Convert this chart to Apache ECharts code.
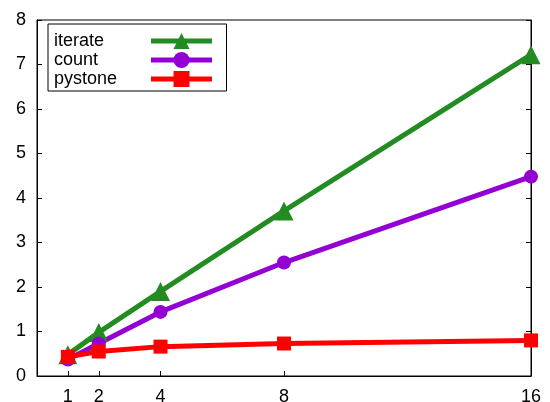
<!DOCTYPE html>
<html><head><meta charset="utf-8">
<script src="https://cdn.jsdelivr.net/npm/echarts@6/dist/echarts.min.js"></script>
<style>html,body{margin:0;padding:0;background:#fff}#c{width:550px;height:402px}</style>
</head><body><div id="c"></div>
<script>
var threads = [1, 2, 4, 8, 16];
var iterate = [0.48, 0.98, 1.9, 3.71, 7.22];
var count = [0.37, 0.73, 1.44, 2.55, 4.48];
var pystone = [0.43, 0.55, 0.66, 0.73, 0.8];
var yTicks = [0, 1, 2, 3, 4, 5, 6, 7, 8];

function pairs(v){ return threads.map(function(x,i){ return [x, v[i]]; }); }
var font = 'Liberation Sans, Arial, Helvetica, sans-serif';
var chart = echarts.init(document.getElementById('c'));
chart.setOption({
  animation: false,
  grid: {left: 37, right: 19, top: 20, bottom: 26, show: true, borderColor: '#000', borderWidth: 1,
         containLabel: false, outerBoundsMode: 'none'},
  legend: {
    left: 48, top: 24, orient: 'vertical', align: 'right',
    padding: [8, 12, 3, 6], itemGap: 1, itemWidth: 61, itemHeight: 20,
    borderColor: '#000', borderWidth: 1, backgroundColor: '#fff',
    lineStyle: {width: 5},
    formatter: function(n){ return '{a|' + n + '}'; },
    textStyle: {fontFamily: font, fontSize: 18, color: '#000',
      rich: {a: {fontFamily: font, fontSize: 18, color: '#000', width: 92, align: 'left'}}},
    data: ['iterate', 'count', 'pystone']
  },
  xAxis: {
    type: 'value', min: 0, max: 16,
    axisLine: {show: true, lineStyle: {color: '#000'}},
    axisTick: {show: true, inside: true, length: 5, customValues: threads, lineStyle: {color: '#000'}},
    axisLabel: {customValues: threads, fontFamily: font, fontSize: 18, color: '#000', margin: 12},
    splitLine: {show: false}
  },
  yAxis: [{
    type: 'value', min: 0, max: 8, interval: 1,
    axisLine: {show: true, lineStyle: {color: '#000'}},
    axisTick: {show: true, inside: true, length: 5, lineStyle: {color: '#000'}},
    axisLabel: {fontFamily: font, fontSize: 18, color: '#000', margin: 11},
    splitLine: {show: false}
  }, {
    type: 'value', min: 0, max: 8, interval: 1, position: 'right',
    axisLine: {show: true, lineStyle: {color: '#000'}},
    axisTick: {show: true, inside: true, length: 5, lineStyle: {color: '#000'}},
    axisLabel: {show: false},
    splitLine: {show: false}
  }],
  series: [
    {name: 'iterate', type: 'line', data: pairs(iterate), color: '#228B22',
     symbol: 'triangle', symbolSize: 19, lineStyle: {width: 5}, itemStyle: {color: '#228B22'}},
    {name: 'count', type: 'line', data: pairs(count), color: '#9400D3',
     symbol: 'circle', symbolSize: 14, lineStyle: {width: 5}, itemStyle: {color: '#9400D3'}},
    {name: 'pystone', type: 'line', data: pairs(pystone), color: '#FF0000',
     symbol: 'rect', symbolSize: 14, lineStyle: {width: 5}, itemStyle: {color: '#FF0000'}}
  ]
});
</script></body></html>
